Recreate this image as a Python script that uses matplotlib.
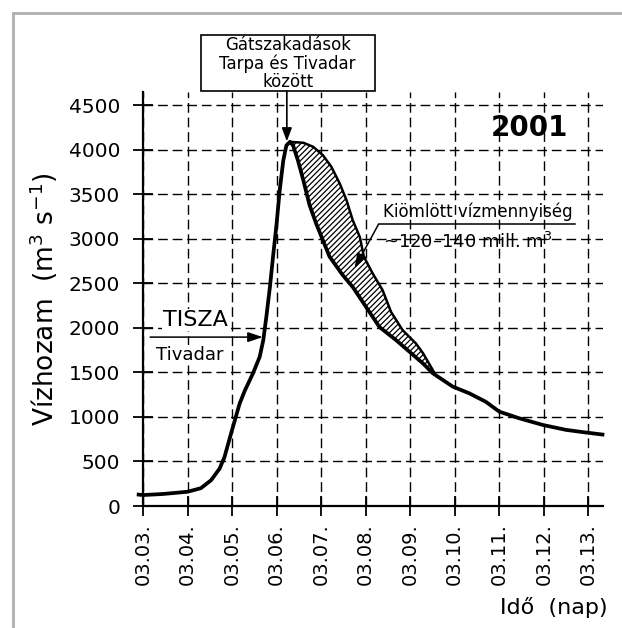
import numpy as np
import matplotlib
matplotlib.use("Agg")
import matplotlib.pyplot as plt
from matplotlib.lines import Line2D
from matplotlib.patches import Rectangle

plt.rcParams['font.family'] = ['DejaVu Sans']
plt.rcParams['hatch.linewidth'] = 0.9

# days counted from 03.03.
day_labels = ['03.03.', '03.04.', '03.05.', '03.06.', '03.07.', '03.08.',
              '03.09.', '03.10.', '03.11.', '03.12.', '03.13.']

# Tisza at Tivadar, discharge (m3/s)
t = [-0.14, 0, 0.45, 1.0, 1.3, 1.53, 1.72, 1.83, 2.02, 2.17, 2.29, 2.47, 2.62,
     2.70, 2.77, 2.85, 2.92, 3.0, 3.07, 3.15, 3.22, 3.30, 3.37, 3.48, 3.60,
     3.74, 3.89, 4.04, 4.19, 4.49, 4.71, 5.01, 5.31, 5.69, 5.99, 6.29, 6.51,
     6.96, 7.33, 7.70, 8.0, 8.45, 8.98, 9.50, 9.95, 10.36]
q = [130, 123, 135, 160, 200, 290, 420, 550, 890, 1150, 1300, 1490, 1675,
     1860, 2125, 2460, 2800, 3170, 3545, 3880, 4050, 4090, 4050, 3880, 3660,
     3380, 3170, 2985, 2800, 2590, 2460, 2235, 2010, 1860, 1730, 1600, 1490,
     1340, 1265, 1170, 1060, 985, 910, 855, 825, 800]

# upper edge of the outflow (without dike breaches)
t_up = [3.30, 3.60, 3.82, 4.04, 4.23, 4.42, 4.57, 4.71, 4.87, 4.96, 5.16,
        5.38, 5.57, 5.83, 6.13, 6.29, 6.51, 6.55]
q_up = [4090, 4080, 4035, 3940, 3810, 3620, 3435, 3210, 3020, 2800, 2610,
        2425, 2180, 1975, 1825, 1715, 1525, 1490]

fig = plt.figure(figsize=(6.22, 6.28), dpi=100)
ax = fig.add_axes([143/622, 1-506/628, (603-143)/622, (506-92)/628])

# hatched region between the two curves
i0 = t.index(3.30)
i1 = t.index(6.51)
poly_x = t_up + t[i1:i0 - 1:-1]
poly_y = q_up + q[i1:i0 - 1:-1]
ax.fill(poly_x, poly_y, facecolor='white', edgecolor='black', hatch='//////',
        linewidth=0, zorder=3)
ax.plot(t_up, q_up, color='black', lw=1.8, zorder=4, solid_joinstyle='round')
ax.plot(t, q, color='black', lw=2.7, zorder=5, clip_on=False,
        solid_capstyle='butt', solid_joinstyle='round')

ax.set_xlim(0, 10.33)
ax.set_ylim(0, 4650)
ax.set_xticks(range(len(day_labels)))
ax.set_xticklabels(day_labels, rotation=90, fontsize=14)
ax.set_yticks(range(0, 5000, 500))
ax.tick_params(axis='y', labelsize=14.5, pad=9)
ax.tick_params(axis='x', pad=5)
ax.tick_params(direction='inout', length=15, width=1.3, color='black')
ax.grid(True, color='black', ls=(0, (7, 3.5)), lw=1.0)
for s in ('top', 'right'):
    ax.spines[s].set_visible(False)
for s in ('left', 'bottom'):
    ax.spines[s].set_linewidth(1.6)

ax.set_ylabel('Vízhozam  (m$^3$ s$^{-1}$)', fontsize=19, labelpad=6)
ax.text(1.009, -0.245, 'Idő  (nap)', transform=ax.transAxes, ha='right',
        va='center', fontsize=16)

ax.text(8.68, 4242, '2001', fontsize=20, fontweight='bold', ha='center',
        va='center')

# dike breach label
ax.add_patch(Rectangle((1.30, 4658), 3.90, 628, fc='white', ec='black',
                       lw=1.2, clip_on=False, zorder=6))
ax.text(3.25, 4972, 'Gátszakadások\nTarpa és Tivadar\nközött', ha='center',
        va='center', fontsize=12, linespacing=1.0, zorder=7)
ax.annotate('', xy=(3.23, 4095), xytext=(3.23, 4658), annotation_clip=False,
            arrowprops=dict(arrowstyle='-|>,head_length=0.8,head_width=0.3',
                            color='black', lw=1.2, shrinkA=0, shrinkB=0),
            zorder=7)

# outflow volume label
ax.plot([5.29, 9.69], [3165, 3165], color='black', lw=1.1, zorder=6)
ax.annotate('', xy=(4.75, 2670), xytext=(5.29, 3165),
            arrowprops=dict(arrowstyle='-|>,head_length=0.9,head_width=0.3',
                            color='black', lw=1.1, shrinkA=0, shrinkB=0),
            zorder=6)
ax.text(5.40, 3310, 'Kiömlött vízmennyiség', fontsize=12, ha='left',
        va='center', zorder=6)
ax.text(5.40, 2963, '~120–140 mill. m$^3$', fontsize=13, ha='left',
        va='center', zorder=6)

# river / station label
ax.text(1.17, 2088, 'TISZA', fontsize=16, ha='center', va='center',
        bbox=dict(fc='white', ec='none', pad=0.5))
ax.text(1.05, 1700, 'Tivadar', fontsize=13, ha='center', va='center',
        bbox=dict(fc='white', ec='none', pad=0.5))
ax.annotate('', xy=(2.69, 1897), xytext=(0.16, 1897),
            arrowprops=dict(arrowstyle='-|>,head_length=0.9,head_width=0.3',
                            color='black', lw=1.1, shrinkA=0, shrinkB=0))

# page frame
fig.add_artist(Line2D([13/622, 13/622], [0, 1-13/628], color='#b0b0b0', lw=2))
fig.add_artist(Line2D([13/622, 1], [1-13/628, 1-13/628], color='#b0b0b0', lw=2))

fig.savefig('out.png', dpi=100)
